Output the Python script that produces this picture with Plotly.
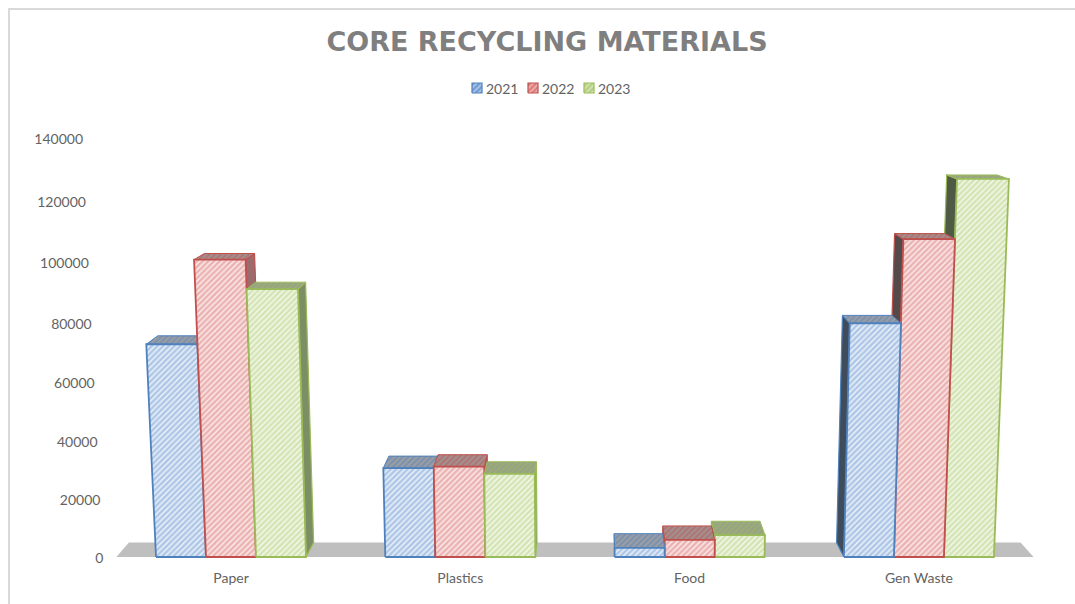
import plotly.graph_objects as go

CATEGORIES = ["Paper", "Plastics", "Food", "Gen Waste"]
YEARS = ["2021", "2022", "2023"]
VALUES_2021 = [73000, 31000, 3200, 80000]
VALUES_2022 = [101000, 31500, 6000, 107700]
VALUES_2023 = [91300, 29000, 7700, 127200]
TICK_VALUES = [0, 20000, 40000, 60000, 80000, 100000, 120000, 140000]
SERIES = [VALUES_2021, VALUES_2022, VALUES_2023]
COLORS = ["#4F81BD", "#C0504D", "#9BBB59"]
FRONT_BG = ["#EEF4FB", "#FBEDED", "#F5F9EC"]
FRONT_FG = ["#6F9AD2", "#DB7A78", "#B3CF7E"]
TOP_BG = ["#9A9DA3", "#A28F8E", "#98A286"]
SIDE_LEFT = ["#3E4C5C", "#544A4A", "#4F5A45"]
SIDE_RIGHT = ["#7A8CA6", "#9C6B6D", "#7C8F64"]

TEXT = "#636363"
FONT = "Lato"
UNIT_PX = 229.3          # pixels per category
ZERO_PX = 231.0          # pixel of first category centre
BASE_PX = 557.0          # pixel of value 0
CX = (600 - ZERO_PX) / UNIT_PX
BAR_W = 50.0 / UNIT_PX
K_LEAN = 3.0e-7


def height(v):
    u = v / 1000.0
    return 2.836 * u + 0.00107 * u * u


def proj(x, v, d=0):
    k_depth = 0.026 if x < CX else 0.03
    X = x + (x - CX) * (K_LEAN * v - k_depth * d)
    Y = height(v) + d * (14.5 - 10.5 * v / 127000.0)
    return X, Y


def poly(points):
    xs, ys = zip(*points)
    return list(xs) + [xs[0]], list(ys) + [ys[0]]


fig = go.Figure()


def add_face(points, color, width=1.8, pattern=None, solid=None):
    xs, ys = poly(points)
    kw = {}
    if pattern:
        kw["fillpattern"] = pattern
    else:
        kw["fillcolor"] = solid
    fig.add_trace(go.Scatter(x=xs, y=ys, mode="lines", fill="toself",
                             line=dict(color=color, width=width),
                             showlegend=False, hoverinfo="skip", **kw))


# floor
add_face([proj(-0.5, 0), proj(3.5, 0), proj(3.5, 0, 1), proj(-0.5, 0, 1)],
         "#BFBFBF", width=0, solid="#BFBFBF")

# bars
for g in range(len(CATEGORIES)):
    order = [0, 1, 2] if g < CX else [2, 1, 0]
    for s in order:
        v = SERIES[s][g]
        x0 = g + (s - 1.5) * BAR_W
        x1 = x0 + BAR_W
        col = COLORS[s]
        if g < CX:
            side = [proj(x1, 0), proj(x1, v), proj(x1, v, 1), proj(x1, 0, 1)]
            side_col = SIDE_RIGHT[s]
        else:
            side = [proj(x0, 0), proj(x0, v), proj(x0, v, 1), proj(x0, 0, 1)]
            side_col = SIDE_LEFT[s]
        add_face(side, col, width=1.2, solid=side_col)
        add_face([proj(x0, v), proj(x1, v), proj(x1, v, 1), proj(x0, v, 1)], col, width=1,
                 pattern=dict(shape="/", fgcolor=col, bgcolor=TOP_BG[s], size=4, solidity=0.4))
        add_face([proj(x0, 0), proj(x1, 0), proj(x1, v), proj(x0, v)], col,
                 pattern=dict(shape="/", fgcolor=FRONT_FG[s], bgcolor=FRONT_BG[s], size=4, solidity=0.65))

# perspective value axis labels
lab = [proj(-0.5, v) for v in TICK_VALUES]
fig.add_trace(go.Scatter(x=[p[0] - 13 / UNIT_PX for p in lab], y=[p[1] - 2 for p in lab],
                         mode="text", text=[str(v) for v in TICK_VALUES],
                         textposition="middle left", cliponaxis=False,
                         textfont=dict(family=FONT, size=14, color=TEXT),
                         showlegend=False, hoverinfo="skip"))

W, H = 1075, 604
BOTTOM = 44

# legend: swatch plus label, laid out in pixel steps
LEG_X0 = 472.0
LEG_STEP = 56.0
LEG_Y = BASE_PX - 88.0
annotations = []
for s, year in enumerate(YEARS):
    left = (LEG_X0 + s * LEG_STEP - ZERO_PX) / UNIT_PX
    right = left + 10 / UNIT_PX
    xs, ys = poly([(left, LEG_Y - 5), (right, LEG_Y - 5), (right, LEG_Y + 5), (left, LEG_Y + 5)])
    fig.add_trace(go.Scatter(x=xs, y=ys, mode="lines", fill="toself", name=year,
                             line=dict(color=COLORS[s], width=1.2),
                             fillpattern=dict(shape="/", fgcolor=FRONT_BG[s], bgcolor=FRONT_FG[s],
                                              size=4, solidity=0.45),
                             showlegend=False, hoverinfo="skip"))
    annotations.append(dict(x=right + 3 / UNIT_PX, y=LEG_Y, text=year, xref="x", yref="y",
                            xanchor="left", yanchor="middle", showarrow=False, xshift=-1,
                            font=dict(family=FONT, size=14, color=TEXT)))

fig.update_layout(
    width=W, height=H, autosize=False,
    margin=dict(l=0, r=0, t=0, b=BOTTOM, pad=0),
    paper_bgcolor="white", plot_bgcolor="white",
    font=dict(family=FONT, size=14, color=TEXT),
    showlegend=False,
    annotations=annotations,
    title=dict(text="CORE RECYCLING MATERIALS", x=547 / W, xanchor="center",
               y=1 - 42 / H, yanchor="middle",
               font=dict(family="DejaVu Sans", size=27, weight=700, color="#7F7F7F")),
    xaxis=dict(range=[-ZERO_PX / UNIT_PX, (W - ZERO_PX) / UNIT_PX], showgrid=False, zeroline=False,
               showline=False, tickmode="array", tickvals=list(range(len(CATEGORIES))),
               ticktext=CATEGORIES, ticks="outside", ticklen=5, tickcolor="rgba(0,0,0,0)",
               tickfont=dict(family=FONT, size=14, color=TEXT)),
    yaxis=dict(range=[-(H - BOTTOM - BASE_PX), BASE_PX], showgrid=False, zeroline=False,
               showline=False, showticklabels=False, ticks=""),
    shapes=[dict(type="path", xref="paper", yref="paper",
                 path=f"M {9 / W} {-BOTTOM / (H - BOTTOM)} L {9 / W} {1 - 9 / (H - BOTTOM)} L 1 {1 - 9 / (H - BOTTOM)}",
                 line=dict(color="#D9D9D9", width=2))],
)

fig.write_html("out.html", config=dict(displayModeBar=False),
               post_script="document.body.style.margin='0';document.documentElement.style.overflow='hidden';")
